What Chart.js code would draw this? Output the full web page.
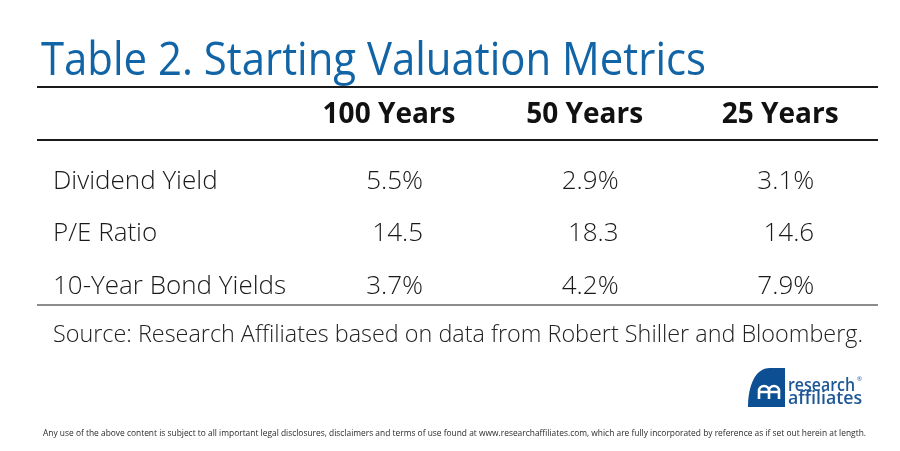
<!DOCTYPE html>
<html>
<head>
<meta charset="utf-8">
<script src="https://cdn.jsdelivr.net/npm/chart.js@4/dist/chart.umd.min.js"></script>
<style>
    body { margin: 0; background: #ffffff; }
    canvas { display: block; }
</style>
</head>
<body>
<canvas id="chart" width="900" height="451"></canvas>
<script>
// Datos de la tabla
const titleText = 'Table 2. Starting Valuation Metrics';
const metrics = ['Dividend Yield', 'P/E Ratio', '10-Year Bond Yields'];
const periods = ['100 Years', '50 Years', '25 Years'];
const units = ['%', '', '%'];
const years100 = [5.5, 14.5, 3.7];
const years50 = [2.9, 18.3, 4.2];
const years25 = [3.1, 14.6, 7.9];
const sourceText = 'Source: Research Affiliates based on data from Robert Shiller and Bloomberg.';
const footerText = 'Any use of the above content is subject to all important legal disclosures, disclaimers and terms of use found at www.researchaffiliates.com, which are fully incorporated by reference as if set out herein at length.';

const columns = [years100, years50, years25];
const FONT = '"Open Sans", "Noto Sans", sans-serif';

// cada celda es un punto: x = columna, y = fila
let datasets = columns.map((values, c) => {
    return {
        label: periods[c],
        data: values.map((v, r) => ({x: c + 1, y: r, v: v})),
        pointRadius: 0,
        showLine: false,
    };
});

const tablePlugin = {
    id: 'tablePlugin',
    afterDraw(chart) {
        const ctx = chart.ctx;
        const area = chart.chartArea;
        const xs = chart.scales.x;
        const ys = chart.scales.y;
        ctx.save();

        // titulo
        ctx.fillStyle = '#1164a6';
        ctx.font = '400 45px ' + FONT;
        ctx.textAlign = 'left';
        ctx.textBaseline = 'alphabetic';
        ctx.fillText(titleText, area.left + 4, area.top - 65, 665);

        // lineas
        ctx.lineWidth = 2;
        ctx.strokeStyle = '#1a1a1a';
        ctx.beginPath();
        ctx.moveTo(area.left, area.top - 53);
        ctx.lineTo(area.right, area.top - 53);
        ctx.moveTo(area.left, area.top);
        ctx.lineTo(area.right, area.top);
        ctx.stroke();
        ctx.strokeStyle = '#8c8c8c';
        ctx.beginPath();
        ctx.moveTo(area.left, area.bottom);
        ctx.lineTo(area.right, area.bottom);
        ctx.stroke();

        // encabezados
        ctx.fillStyle = '#111111';
        ctx.font = '700 28px ' + FONT;
        ctx.textAlign = 'center';
        chart.data.datasets.forEach((ds, c) => {
            ctx.fillText(ds.label, xs.getPixelForValue(c + 1), area.top - 17, 137);
        });

        // etiquetas de fila
        ctx.font = '300 26px ' + FONT;
        ctx.fillStyle = '#1a1a1a';
        ctx.textAlign = 'left';
        metrics.forEach((m, r) => {
            ctx.fillText(m, area.left + 16, ys.getPixelForValue(r));
        });

        // valores
        ctx.textAlign = 'right';
        chart.data.datasets.forEach((ds, c) => {
            const meta = chart.getDatasetMeta(c);
            meta.data.forEach((pt, r) => {
                const d = ds.data[r];
                ctx.fillText(d.v.toFixed(1) + units[r], pt.x + 34, pt.y);
            });
        });

        // fuente
        ctx.font = '300 24px ' + FONT;
        ctx.fillStyle = '#222222';
        ctx.textAlign = 'left';
        ctx.fillText(sourceText, area.left + 16, area.bottom + 37, 810);

        // logo
        ctx.fillStyle = '#0c4f92';
        ctx.beginPath();
        ctx.moveTo(748, 407);
        ctx.bezierCurveTo(748, 386, 755, 368, 770, 368);
        ctx.lineTo(785, 368);
        ctx.lineTo(785, 407);
        ctx.closePath();
        ctx.fill();
        ctx.strokeStyle = '#ffffff';
        ctx.lineWidth = 2.6;
        ctx.beginPath();
        ctx.moveTo(759, 399);
        ctx.lineTo(759, 391);
        ctx.arc(764, 391, 5, Math.PI, 0);
        ctx.lineTo(769, 399);
        ctx.moveTo(769, 391);
        ctx.arc(774, 391, 5, Math.PI, 0);
        ctx.lineTo(779, 399);
        ctx.moveTo(759, 392);
        ctx.lineTo(779, 392);
        ctx.stroke();
        ctx.fillStyle = '#1d5797';
        ctx.font = '600 18px ' + FONT;
        ctx.fillText('research', 788, 391, 67);
        ctx.fillText('affiliates', 788, 404, 74);
        ctx.font = '400 6px ' + FONT;
        ctx.fillText('®', 857, 381);

        // aviso legal
        ctx.font = '400 8.5px ' + FONT;
        ctx.fillStyle = '#2a2a2a';
        ctx.textAlign = 'center';
        ctx.fillText(footerText, 454.5, 436, 823);

        ctx.restore();
    }
};

new Chart(document.getElementById('chart'), {
    type: 'scatter',
    data: {
        datasets: datasets,
    },
    options: {
        responsive: false,
        animation: false,
        devicePixelRatio: 1,
        layout: {
            padding: {left: 37, right: 22, top: 140, bottom: 146},
        },
        scales: {
            x: {
                type: 'linear',
                display: false,
                min: -0.8,
                max: 3.5,
            },
            y: {
                type: 'linear',
                display: false,
                reverse: true,
                min: -0.933,
                max: 2.21,
            },
        },
        plugins: {
            legend: {display: false},
            tooltip: {enabled: false},
        },
    },
    plugins: [tablePlugin],
});
</script>
</body>
</html>
